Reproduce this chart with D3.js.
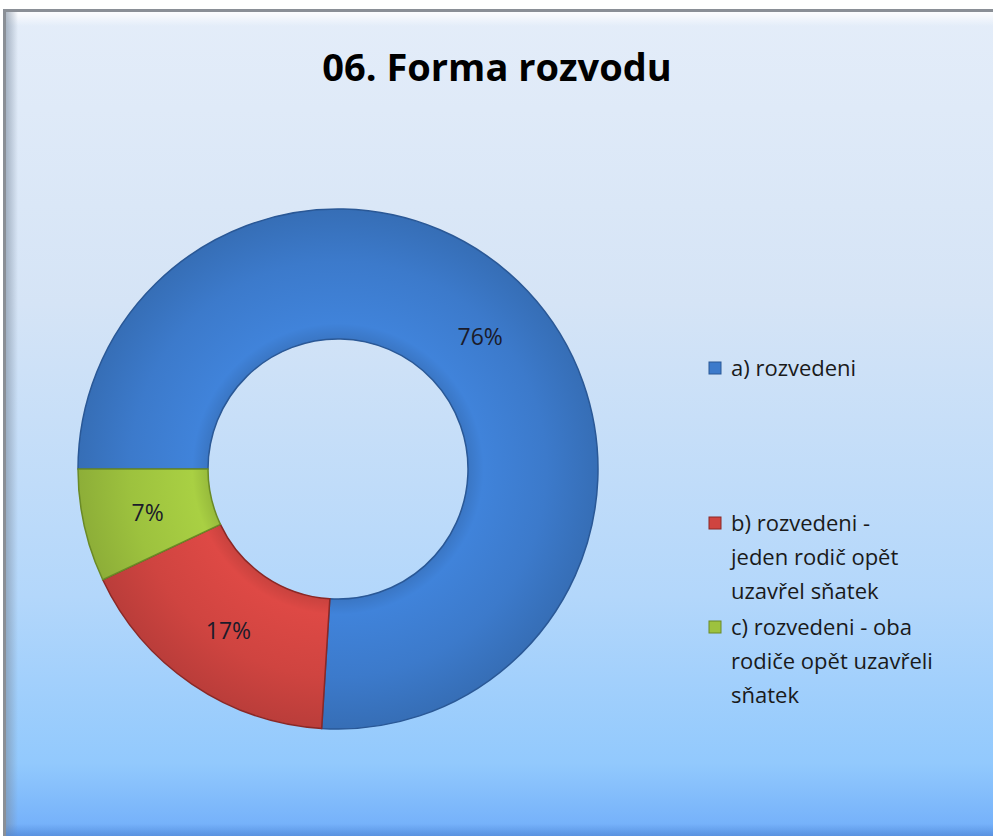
<!DOCTYPE html>
<html lang="cs">
    <head>
        <meta charset="utf-8">
        <title>06. Forma rozvodu</title>
        <script src="https://d3js.org/d3.v7.min.js"></script>
        <style type="text/css">
            body{
                margin: 0;
                background: white;
            }
            .labels{
                font-size: 23px;
                font-family: "Open Sans", sans-serif;
                fill: #1b1b2a;
            }
            .legend{
                font-size: 22px;
                font-family: "Open Sans", sans-serif;
                fill: #1a1a1a;
            }
            .title{
                font-size: 38px;
                font-weight: bold;
                font-family: "Open Sans", sans-serif;
                fill: #000;
            }
        </style>
    </head>
    <body>
        <script type="text/javascript">

            //data
            const categories = ["a) rozvedeni",
                                "b) rozvedeni - jeden rodič opět uzavřel sňatek",
                                "c) rozvedeni - oba rodiče opět uzavřeli sňatek"];
            const values = [76, 17, 7];
            const legendLines = [["a) rozvedeni"],
                                 ["b) rozvedeni -", "jeden rodič opět", "uzavřel sňatek"],
                                 ["c) rozvedeni - oba", "rodiče opět uzavřeli", "sňatek"]];
            const colors = ["#3c7acb", "#cf4440", "#9dc23e"];
            const strokes = ["#2a5896", "#8a2826", "#6a8a26"];

            const data = categories.map((c, i) => ({cat: c, value: values[i], lines: legendLines[i]}));

            //declare consts
            const w = 993;
            const h = 836;
            const cx = 338, cy = 469;
            const outerRadius = 260;
            const innerRadius = 130;

            const svg = d3.select("body")
                    .append("svg")
                    .attr("width", w)
                    .attr("height", h)
                    .style("display", "block");

            const defs = svg.append("defs");

            //background gradient
            const bg = defs.append("linearGradient")
                    .attr("id", "bg")
                    .attr("x1", 0).attr("y1", 0).attr("x2", 0).attr("y2", 1);
            bg.append("stop").attr("offset", "0%").attr("stop-color", "#e4edf9");
            bg.append("stop").attr("offset", "35%").attr("stop-color", "#d5e4f6");
            bg.append("stop").attr("offset", "70%").attr("stop-color", "#b3d7fb");
            bg.append("stop").attr("offset", "90%").attr("stop-color", "#92c9fd");
            bg.append("stop").attr("offset", "100%").attr("stop-color", "#6ba9f9");

            const topBevel = defs.append("linearGradient")
                    .attr("id", "topBevel")
                    .attr("x1", 0).attr("y1", 0).attr("x2", 0).attr("y2", 1);
            topBevel.append("stop").attr("offset", "0%").attr("stop-color", "#ffffff").attr("stop-opacity", 0.9);
            topBevel.append("stop").attr("offset", "100%").attr("stop-color", "#ffffff").attr("stop-opacity", 0);

            const leftBevel = defs.append("linearGradient")
                    .attr("id", "leftBevel")
                    .attr("x1", 0).attr("y1", 0).attr("x2", 1).attr("y2", 0);
            leftBevel.append("stop").attr("offset", "0%").attr("stop-color", "#7f8ea0").attr("stop-opacity", 0.6);
            leftBevel.append("stop").attr("offset", "100%").attr("stop-color", "#7f8ea0").attr("stop-opacity", 0);

            const botBevel = defs.append("linearGradient")
                    .attr("id", "botBevel")
                    .attr("x1", 0).attr("y1", 0).attr("x2", 0).attr("y2", 1);
            botBevel.append("stop").attr("offset", "0%").attr("stop-color", "#4a80d0").attr("stop-opacity", 0);
            botBevel.append("stop").attr("offset", "100%").attr("stop-color", "#4a80d0").attr("stop-opacity", 0.6);

            //frame
            svg.append("rect")
                .attr("x", 5).attr("y", 11)
                .attr("width", w).attr("height", h)
                .attr("fill", "url(#bg)");
            svg.append("rect")
                .attr("x", 6).attr("y", 12)
                .attr("width", w).attr("height", 14)
                .attr("fill", "url(#topBevel)");
            svg.append("rect")
                .attr("x", 6).attr("y", 12)
                .attr("width", 12).attr("height", h)
                .attr("fill", "url(#leftBevel)");
            svg.append("rect")
                .attr("x", 6).attr("y", h - 12)
                .attr("width", w).attr("height", 12)
                .attr("fill", "url(#botBevel)");
            svg.append("path")
                .attr("d", `M4.5,${h} V10.5 H${w}`)
                .attr("fill", "none")
                .attr("stroke", "#8a8f96")
                .attr("stroke-width", 3);

            //title
            svg.append("text")
                .attr("class", "title")
                .attr("x", 497)
                .attr("y", 81)
                .attr("text-anchor", "middle")
                .text("06. Forma rozvodu");

            //slice gradients to mimic the bevel
            colors.forEach((c, i) => {
                const g = defs.append("radialGradient")
                    .attr("id", "slice" + i)
                    .attr("gradientUnits", "userSpaceOnUse")
                    .attr("cx", 0).attr("cy", 0).attr("r", outerRadius);
                g.append("stop").attr("offset", "50%").attr("stop-color", d3.color(c).darker(0.1));
                g.append("stop").attr("offset", "56%").attr("stop-color", d3.color(c).brighter(0.2));
                g.append("stop").attr("offset", "80%").attr("stop-color", c);
                g.append("stop").attr("offset", "100%").attr("stop-color", d3.color(c).darker(0.3));
            });

            const arc = d3.arc()
                    .innerRadius(innerRadius)
                    .outerRadius(outerRadius);

            //pie generator, first slice starts at 9 o'clock
            const pie = d3.pie()
                    .value(d => d.value)
                    .sort(null)
                    .startAngle(-Math.PI / 2)
                    .endAngle(1.5 * Math.PI);

            const groups = svg.selectAll("g.arc")
                    .data(pie(data))
                    .enter()
                    .append("g")
                    .attr("class", "arc")
                    .attr("transform", "translate(" + cx + "," + cy + ")");

            groups.append("path")
                .attr("fill", (d, i) => "url(#slice" + i + ")")
                .attr("stroke", (d, i) => strokes[i])
                .attr("stroke-width", 1.5)
                .attr("d", arc);

            //Labels
            groups.append("text")
                .attr("transform", d => "translate(" + arc.centroid(d) + ")")
                .attr("text-anchor", "middle")
                .attr("dy", "0.4em")
                .attr("class", "labels")
                .text(d => Math.round(d.data.value / d3.sum(values) * 100) + "%");

            //legend
            const legendY = [368, 523, 627];
            const lineH = 34;
            const legend = svg.selectAll("g.legendItem")
                    .data(data)
                    .enter()
                    .append("g")
                    .attr("class", "legendItem")
                    .attr("transform", (d, i) => "translate(709," + legendY[i] + ")");

            legend.append("rect")
                .attr("x", 0).attr("y", -6)
                .attr("width", 12).attr("height", 12)
                .attr("fill", (d, i) => colors[i])
                .attr("stroke", (d, i) => strokes[i])
                .attr("stroke-width", 1);

            legend.append("text")
                .attr("class", "legend")
                .attr("x", 22)
                .attr("y", 0)
                .selectAll("tspan")
                .data(d => d.lines)
                .enter()
                .append("tspan")
                .attr("x", 22)
                .attr("dy", (d, i) => i === 0 ? "0.35em" : lineH)
                .text(d => d);

        </script>
    </body>
</html>
